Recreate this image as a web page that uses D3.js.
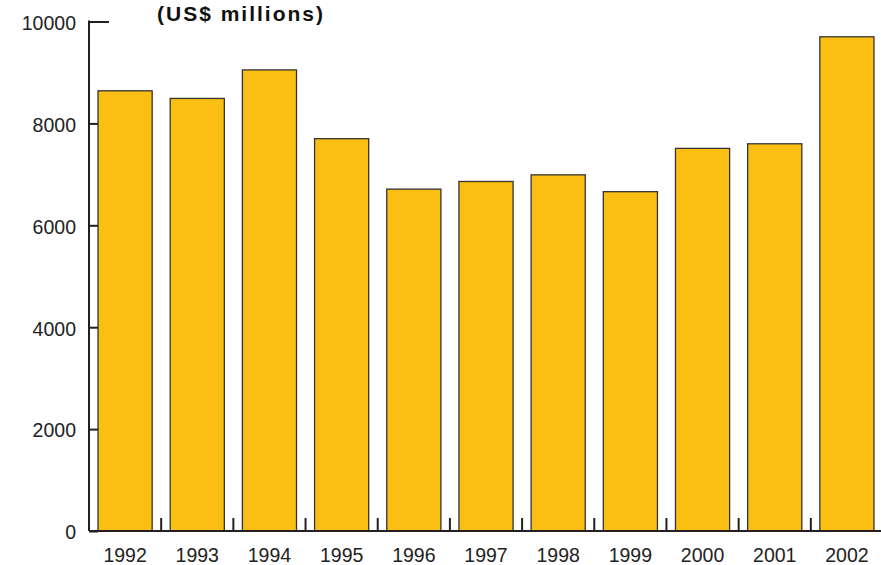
<!DOCTYPE html>
<html>
<head>
<meta charset="utf-8">
<script src="https://cdn.jsdelivr.net/npm/d3@7"></script>
<style>
  body { margin: 0; background: #fff; }
  svg { display: block; font-family: "Liberation Sans", Arial, sans-serif; }
</style>
</head>
<body>
<svg id="chart" viewBox="0 0 881 565" width="881" height="565"></svg>
<script>
// data
const years = ["1992", "1993", "1994", "1995", "1996", "1997", "1998", "1999", "2000", "2001", "2002"];
const values = [8640, 8490, 9050, 7700, 6710, 6860, 6990, 6660, 7510, 7600, 9700];
const yTicks = [0, 2000, 4000, 6000, 8000, 10000];
const unitLabel = "(US$ millions)";

const axisColor = "#231f20";
const barColor = "#fbbf14";

const svgEl = d3.select("#chart");

const x0 = 89;
const x1 = 883;
const yBottom = 531;
const yTop = 21.5;

const xScale = d3
  .scaleBand()
  .domain(years)
  .range([x0, x1])
  .paddingInner(0.25)
  .paddingOuter(0.125);

const yScale = d3.scaleLinear().domain([0, 10000]).range([yBottom, yTop]);

const data = years.map((y, i) => ({ year: y, value: values[i] }));

// bars
svgEl
  .append("g")
  .attr("class", "bars")
  .selectAll("rect")
  .data(data)
  .enter()
  .append("rect")
  .attr("x", (d) => xScale(d.year))
  .attr("y", (d) => yScale(d.value))
  .attr("width", xScale.bandwidth())
  .attr("height", (d) => yScale(0) - yScale(d.value))
  .attr("fill", barColor)
  .attr("stroke", "#333")
  .attr("stroke-width", 1.3);

// y axis: ticks point inward, labels on the left
const yAxis = d3
  .axisLeft(yScale)
  .tickValues(yTicks)
  .tickFormat(d3.format("d"))
  .tickSizeInner(-9)
  .tickSizeOuter(0)
  .tickPadding(13);

const yAxisG = svgEl
  .append("g")
  .attr("class", "yAxisG")
  .attr("transform", `translate(${x0} 0)`)
  .call(yAxis);

yAxisG.select("path.domain").remove();
yAxisG.selectAll("line").attr("stroke", axisColor).attr("stroke-width", 2);
yAxisG
  .selectAll("text")
  .attr("fill", "#222")
  .attr("dy", "0.4em")
  .style("font-size", "19.5px");
// top tick is longer
yAxisG
  .selectAll("g.tick")
  .filter((d) => d === 10000)
  .select("line")
  .attr("x2", 20);

// axis lines
svgEl
  .append("line")
  .attr("x1", x0)
  .attr("x2", x0)
  .attr("y1", yScale(10000) - 1)
  .attr("y2", yScale(0))
  .attr("stroke", axisColor)
  .attr("stroke-width", 2);

svgEl
  .append("line")
  .attr("x1", x0)
  .attr("x2", 881)
  .attr("y1", yScale(0))
  .attr("y2", yScale(0))
  .attr("stroke", axisColor)
  .attr("stroke-width", 2);

// x axis labels
const xAxis = d3.axisBottom(xScale).tickSize(0).tickPadding(17);
const xAxisG = svgEl
  .append("g")
  .attr("class", "xAxisG")
  .attr("transform", `translate(0 ${yBottom})`)
  .call(xAxis);

xAxisG.select("path.domain").remove();
xAxisG.selectAll("text").attr("fill", "#222").style("font-size", "19.5px");

// small separator ticks between the bars
const gap = xScale.step() - xScale.bandwidth();
svgEl
  .append("g")
  .attr("class", "sep-ticks")
  .selectAll("line")
  .data(years.slice(0, -1))
  .enter()
  .append("line")
  .attr("x1", (d) => xScale(d) + xScale.bandwidth() + gap / 2)
  .attr("x2", (d) => xScale(d) + xScale.bandwidth() + gap / 2)
  .attr("y1", yBottom)
  .attr("y2", yBottom - 13)
  .attr("stroke", axisColor)
  .attr("stroke-width", 2);

// unit title
svgEl
  .append("text")
  .attr("x", 157)
  .attr("y", 21)
  .text(unitLabel)
  .style("font-size", "21px")
  .style("font-weight", 700)
  .style("letter-spacing", "2px")
  .attr("fill", "#111");
</script>
</body>
</html>
